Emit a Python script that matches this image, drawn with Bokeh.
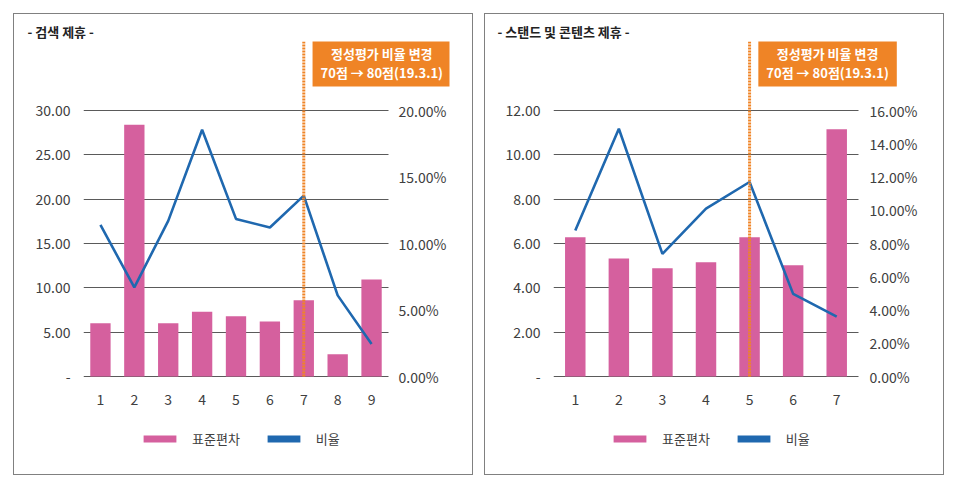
from bokeh.plotting import figure
from bokeh.models import (Range1d, LinearAxis, FixedTicker, Label, Legend,
                          LegendItem, ColumnDataSource, Grid)
from bokeh.layouts import row
from bokeh.embed import file_html
from bokeh.resources import INLINE

# ---------------- data ----------------
left_title = "- 검색 제휴 -"
left_cats = [1, 2, 3, 4, 5, 6, 7, 8, 9]
left_std = [6.0, 28.4, 6.0, 7.3, 6.8, 6.2, 8.6, 2.5, 10.95]
left_ratio = [11.4, 6.7, 11.7, 18.55, 11.85, 11.2, 13.6, 6.1, 2.45]
left_change_at = 7
left_ticks = [0, 5, 10, 15, 20, 25, 30]
left_tick_labels = ["-", "5.00", "10.00", "15.00", "20.00", "25.00", "30.00"]
left_pct_ticks = [0, 5, 10, 15, 20]
left_pct_labels = ["0.00%", "5.00%", "10.00%", "15.00%", "20.00%"]

right_title = "- 스탠드 및 콘텐츠 제휴 -"
right_cats = [1, 2, 3, 4, 5, 6, 7]
right_std = [6.28, 5.32, 4.88, 5.15, 6.28, 5.02, 11.15]
right_ratio = [8.78, 14.9, 7.38, 10.1, 11.7, 4.97, 3.6]
right_change_at = 5
right_ticks = [0, 2, 4, 6, 8, 10, 12]
right_tick_labels = ["-", "2.00", "4.00", "6.00", "8.00", "10.00", "12.00"]
right_pct_ticks = [0, 2, 4, 6, 8, 10, 12, 14, 16]
right_pct_labels = ["0.00%", "2.00%", "4.00%", "6.00%", "8.00%", "10.00%",
                    "12.00%", "14.00%", "16.00%"]

note_text = "정성평가 비율 변경\n70점 → 80점(19.3.1)"
legend_std = "표준편차"
legend_ratio = "비율"

# ---------------- style ----------------
PINK = "#D5609E"
BLUE = "#1F68AF"
ORANGE = "#EF8426"
GRID = "#5a5a5a"
TEXT = "#404040"
FONT = "Noto Sans CJK KR"

W, H = 458, 460
TOP_B, BOTTOM_B = 27, 14      # borders above / below the frame (px)
BASE_FROM_BOTTOM = 84         # px from frame bottom up to the zero gridline
GRID_H = 266                  # px between lowest and highest gridline
GRID_W = 305                  # px width of the gridded area


def panel(title, cats, std, ratio, change_at, ticks, tick_labels,
          pct_ticks, pct_labels, bar_width, border_left, border_right,
          pct_standoff, margin):
    n = len(cats)
    frame_h = H - TOP_B - BOTTOM_B
    above = frame_h - BASE_FROM_BOTTOM
    ppu = GRID_H / ticks[-1]
    ppp = GRID_H / pct_ticks[-1]
    frame_w = W - border_left - border_right
    xmax = 0.5 + n * frame_w / GRID_W
    ymin, ymax = -BASE_FROM_BOTTOM / ppu, above / ppu
    p = figure(width=W, height=H, output_backend="svg", toolbar_location=None,
               x_range=Range1d(0.5, xmax), y_range=Range1d(ymin, ymax),
               min_border_left=border_left, min_border_right=border_right,
               min_border_top=TOP_B, min_border_bottom=BOTTOM_B,
               outline_line_color=None, background_fill_color="white",
               border_fill_color="white", margin=margin,
               styles={"outline": "1.5px solid #808080"})
    p.extra_y_ranges = {"pct": Range1d(-BASE_FROM_BOTTOM / ppp, above / ppp)}

    src = ColumnDataSource(dict(x=cats, std=std, ratio=ratio))

    # grid lines limited to the category area
    p.xgrid.grid_line_color = None
    p.ygrid.grid_line_color = None
    g = Grid(dimension=1, ticker=FixedTicker(ticks=ticks),
             grid_line_color=GRID, grid_line_width=1)
    if "cross_bounds" in Grid.properties():
        g.cross_bounds = (0.5, n + 0.5)
        p.add_layout(g)
    else:
        p.segment(x0=0.5, x1=n + 0.5, y0=ticks, y1=ticks,
                  line_color=GRID, line_width=1)

    bars = p.vbar(x="x", top="std", width=bar_width, source=src,
                  fill_color=PINK, line_color=None)
    p.line(x="x", y="ratio", source=src, y_range_name="pct",
           line_color=BLUE, line_width=2.6)
    # zero-height swatch renderer, used only for the legend entry of the line
    swatch = p.vbar(x=[cats[0]], top=[ticks[0]], bottom=[ticks[0]], width=0.5,
                    fill_color=BLUE, line_color=None)

    # change marker: dotted vertical line from the baseline to the top
    p.segment(x0=[change_at], x1=[change_at], y0=[ticks[0]], y1=[ymax],
              line_color=ORANGE, line_width=3, line_dash="2 1")

    # axes
    p.xaxis.ticker = FixedTicker(ticks=cats)
    p.yaxis.ticker = FixedTicker(ticks=ticks)
    p.yaxis.major_label_overrides = {t: l for t, l in zip(ticks, tick_labels)}
    ax_r = LinearAxis(y_range_name="pct", ticker=FixedTicker(ticks=pct_ticks))
    ax_r.major_label_overrides = {t: l for t, l in zip(pct_ticks, pct_labels)}
    p.add_layout(ax_r, "right")
    for ax in [p.xaxis[0], p.yaxis[0], ax_r]:
        ax.axis_line_color = None
        ax.major_tick_line_color = None
        ax.minor_tick_line_color = None
        ax.major_tick_out = 0
        ax.major_tick_in = 0
        ax.minor_tick_out = 0
        ax.major_label_text_font = FONT
        ax.major_label_text_font_size = "14px"
        ax.major_label_text_color = TEXT
    p.xaxis.major_label_standoff = 17 - BASE_FROM_BOTTOM
    p.yaxis[0].major_label_standoff = 13
    ax_r.major_label_standoff = pct_standoff

    p.add_layout(Label(x=change_at, y=ymax, x_offset=78, y_offset=-21,
                       text=note_text, text_align="center", text_baseline="middle",
                       text_font=FONT, text_font_size="13px",
                       text_font_style="bold", text_color="white",
                       background_fill_color=ORANGE, padding=(8, 5),
                       text_line_height=1.0))

    p.title.text = title
    p.title.align = "left"
    p.title.offset = -56
    p.title.standoff = 2
    p.title.vertical_align = "bottom"
    p.title.text_font = FONT
    p.title.text_font_size = "13px"
    p.title.text_font_style = "bold"
    p.title.text_color = "#222222"

    legend = Legend(items=[LegendItem(label=legend_std, renderers=[bars]),
                           LegendItem(label=legend_ratio, renderers=[swatch])],
                    orientation="horizontal", location=(56, 12),
                    glyph_width=41, glyph_height=9, label_height=16,
                    label_standoff=12, spacing=23, padding=0, margin=0,
                    border_line_color=None, background_fill_alpha=0,
                    label_text_font=FONT, label_text_font_size="13px",
                    label_text_color=TEXT)
    p.add_layout(legend)
    return p


p1 = panel(left_title, left_cats, left_std, left_ratio, left_change_at,
           left_ticks, left_tick_labels, left_pct_ticks, left_pct_labels,
           0.6, 69, 23, -51, (14, 0, 0, 14))
p2 = panel(right_title, right_cats, right_std, right_ratio, right_change_at,
           right_ticks, right_tick_labels, right_pct_ticks, right_pct_labels,
           0.47, 68, 46, -28, (14, 0, 0, 13))

layout = row(p1, p2)
open("out.html", "w").write(file_html(layout, INLINE))
